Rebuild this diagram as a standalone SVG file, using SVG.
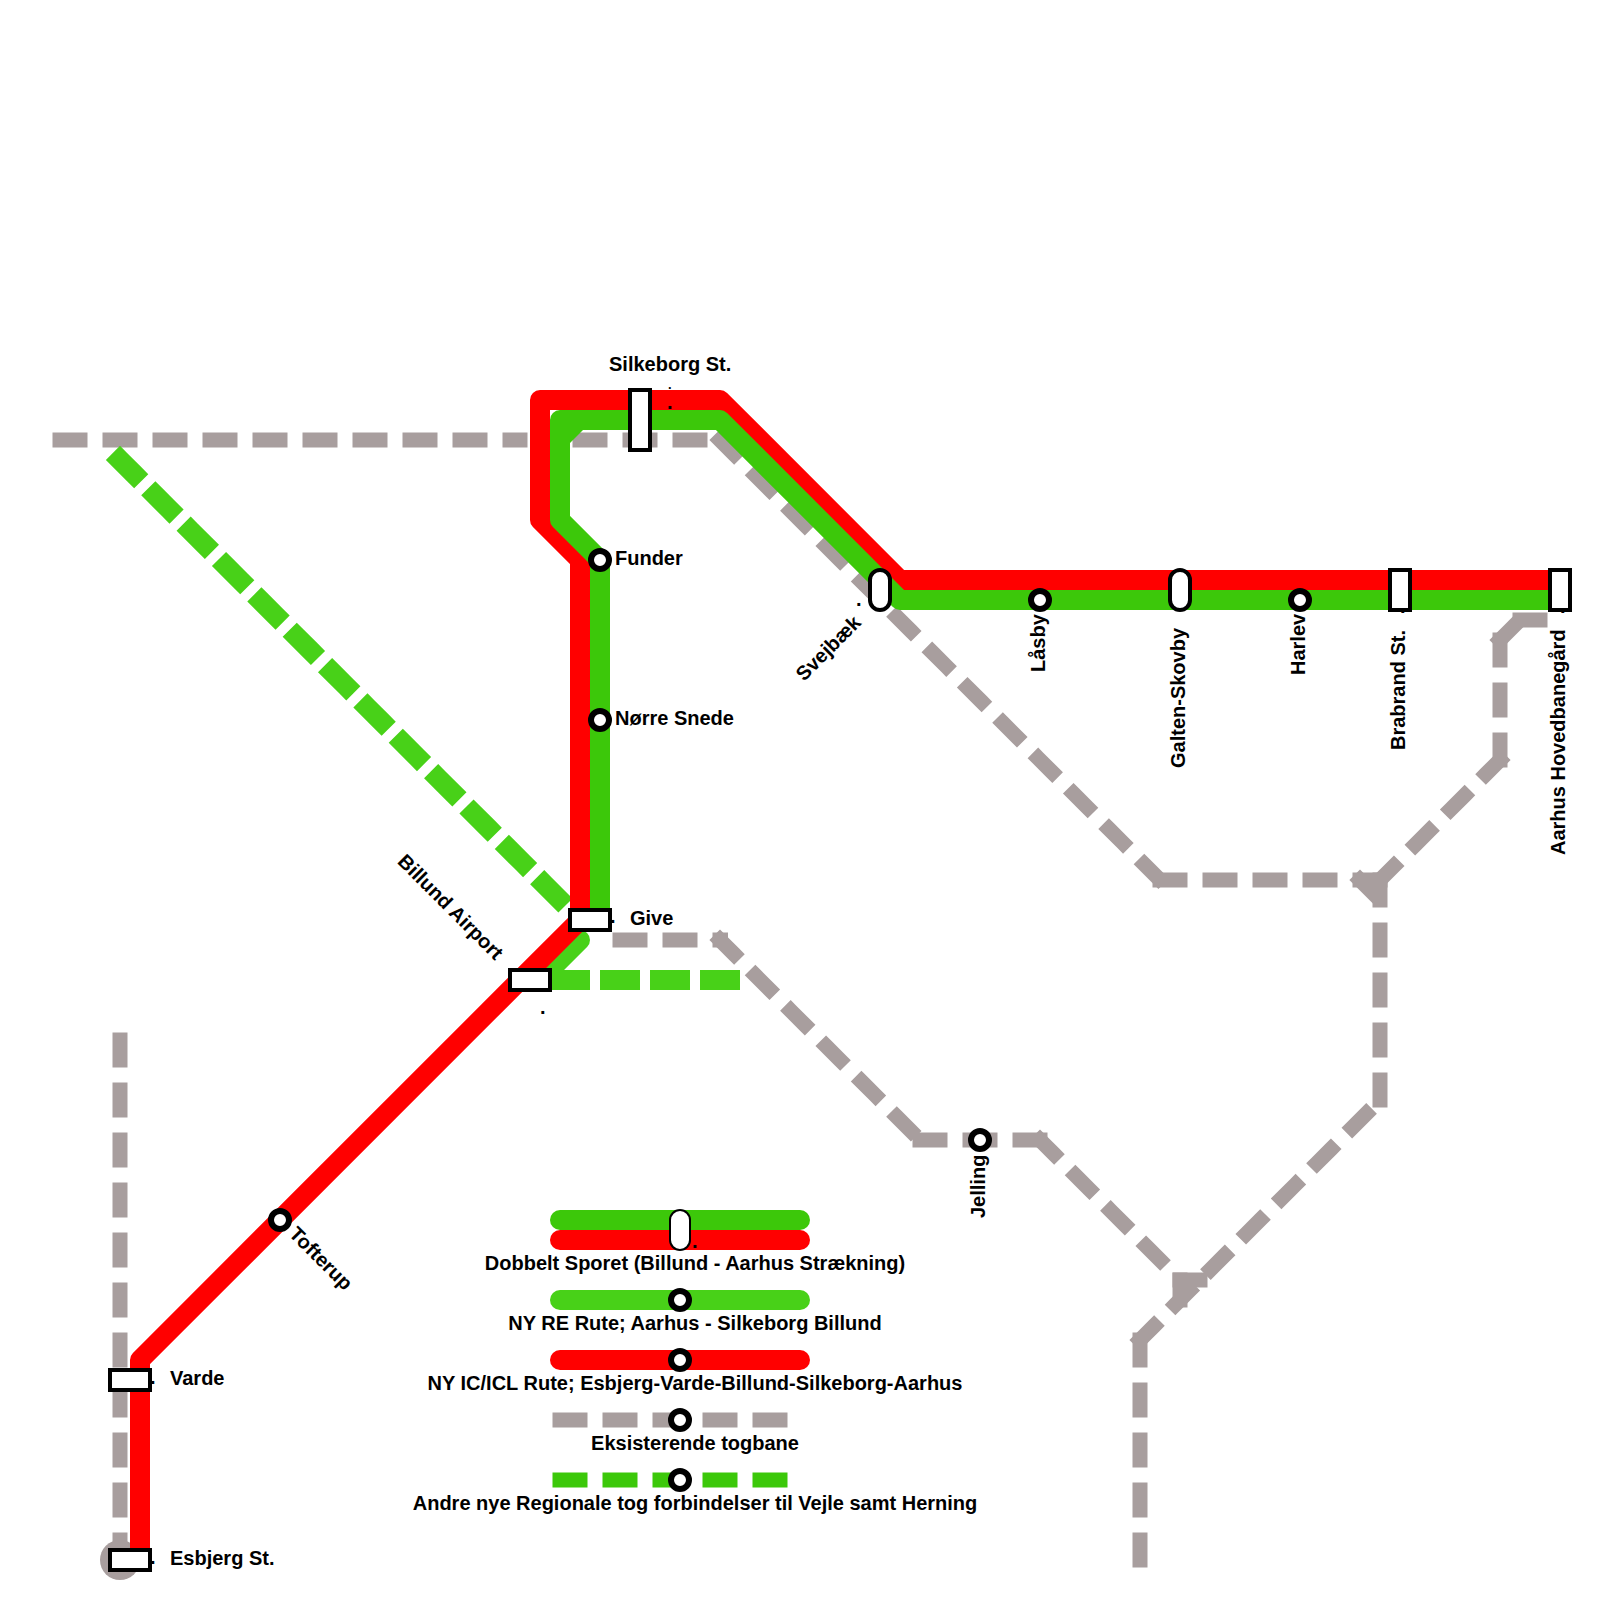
<svg xmlns="http://www.w3.org/2000/svg" width="1600" height="1600" viewBox="0 0 1600 1600">
<style>
text{font-family:"Liberation Sans",Arial,sans-serif;font-weight:bold;font-size:20px;fill:#000}
.m{text-anchor:middle}
.line{fill:none;stroke-linejoin:round}
.red{stroke:#ff0000;stroke-width:20}
.dg{stroke:#3cc80a;stroke-width:20}
.lg{stroke:#48d118;stroke-width:20}
.cap{stroke-linecap:round}
.gd{fill:none;stroke:#a89e9e;stroke-width:15;stroke-linecap:square;stroke-dasharray:20 30}
.ld{fill:none;stroke:#48d118;stroke-width:20;stroke-linecap:square;stroke-dasharray:20 30}
.st{fill:#fff;stroke:#000;stroke-width:4}
.ci{fill:#fff;stroke:#000;stroke-width:6}
</style>
<rect width="1600" height="1600" fill="#fff"/>
<g id="connectors">
<circle cx="120" cy="1560" r="20" fill="#a89e9e"/>
<path class="gd" d="M120 1040V1560"/>
<path class="gd" d="M60 440H520"/>
<path class="gd" d="M580 440H720"/>
<path class="gd" d="M720 440L1160 880"/>
<path class="gd" d="M1160 880H1380"/>
<path class="gd" d="M1360 880L1380 900"/>
<path class="gd" d="M1500 760L1380 880"/>
<path class="gd" d="M1500 760V640"/>
<path class="gd" d="M1500 640L1520 620"/>
<path class="gd" d="M1520 620H1540"/>
<path class="gd" d="M1380 880V1100"/>
<path class="gd" d="M1140 1340L1380 1100"/>
<path class="gd" d="M1140 1340V1570"/>
<path class="gd" d="M620 940H720.5"/>
<path class="gd" d="M720 940L920 1140"/>
<path class="gd" d="M920 1140H1040"/>
<path class="gd" d="M1040 1140L1180 1280"/>
<path class="gd" d="M1180 1280H1200"/>
<path class="gd" d="M1180 1280V1300"/>
<path class="ld" d="M120 460L570 910"/>
<path class="ld" d="M560 980H730"/>
<path class="line lg cap" d="M580 940L540 980"/>
<path class="line red" d="M140 1560V1360L580 920V560L540 520V400H720L900 580H1560"/>
<path class="line dg" d="M600 920V560L560 520V420H720L900 600H1560"/>
<path fill="#3cc80a" d="M569 429H584L569 444Z"/>
</g>
<g id="legend-lines">
<path class="line dg cap" d="M560 1220H800"/>
<path class="line red cap" d="M560 1240H800"/>
<path class="line lg cap" d="M560 1300H800"/>
<path class="line red cap" d="M560 1360H800"/>
<path class="gd" d="M560 1420H780"/>
<path style="fill:none;stroke:#3cc80a;stroke-width:15;stroke-linecap:square;stroke-dasharray:20 30" d="M560 1480H780"/>
</g>
<g id="esbjerg"><rect class="st" x="110" y="1550" width="40" height="20"/><text x="170" y="1565">Esbjerg St.</text><text x="150" y="1564">.</text></g>
<g id="varde"><rect class="st" x="110" y="1370" width="40" height="20"/><text x="170" y="1385">Varde</text><text x="150" y="1384">.</text></g>
<g id="tofterup"><circle class="ci" cx="280" cy="1220" r="9"/><text transform="translate(288 1235) rotate(45)">Tofterup</text></g>
<g id="billund"><rect class="st" x="510" y="970" width="40" height="20"/><text transform="translate(396.5 862.5) rotate(45)">Billund Airport</text><text x="540" y="1014">.</text></g>
<g id="give"><rect class="st" x="570" y="910" width="40" height="20"/><text x="630" y="925">Give</text><text x="610" y="923">.</text></g>
<g id="noerre-snede"><circle class="ci" cx="600" cy="720" r="9"/><text x="615" y="725">Nørre Snede</text></g>
<g id="funder"><circle class="ci" cx="600" cy="560" r="9"/><text x="615" y="565">Funder</text></g>
<g id="silkeborg"><rect class="st" x="630" y="390" width="20" height="60"/><text x="609" y="371">Silkeborg St.</text><text x="668" y="389" style="font-size:13px">.</text><text x="667" y="409">.</text></g>
<g id="svejbaek"><rect class="st" x="870" y="570" width="20" height="40" rx="10"/><text transform="translate(804 682) rotate(-45)">Svejbæk</text><text x="856" y="606">.</text></g>
<g id="laasby"><circle class="ci" cx="1040" cy="600" r="9"/><text transform="translate(1045 672) rotate(-90)">Låsby</text></g>
<g id="galten"><rect class="st" x="1170" y="570" width="20" height="40" rx="10"/><text transform="translate(1185 768) rotate(-90)">Galten-Skovby</text></g>
<g id="harlev"><circle class="ci" cx="1300" cy="600" r="9"/><text transform="translate(1305 675) rotate(-90)">Harlev</text></g>
<g id="brabrand"><rect class="st" x="1390" y="570" width="20" height="40"/><text transform="translate(1405 750) rotate(-90)">Brabrand St.</text><text x="1400" y="613">.</text></g>
<g id="aarhus"><rect class="st" x="1550" y="570" width="20" height="40"/><text transform="translate(1565 855) rotate(-90)">Aarhus Hovedbanegård</text><text x="1560" y="613">.</text></g>
<g id="jelling"><circle class="ci" cx="980" cy="1140" r="9"/><text transform="translate(985 1218) rotate(-90)">Jelling</text></g>
<g id="legend-double"><rect x="670" y="1210" width="20" height="40" rx="10" fill="#fff" stroke="#000" stroke-width="2"/><text x="692" y="1248">.</text><text class="m" x="695" y="1270">Dobbelt Sporet (Billund - Aarhus Strækning)</text></g>
<g id="legend-re"><circle class="ci" cx="680" cy="1300" r="9"/><text class="m" x="695" y="1330">NY RE Rute; Aarhus - Silkeborg Billund</text></g>
<g id="legend-ic"><circle class="ci" cx="680" cy="1360" r="9"/><text class="m" x="695" y="1390">NY IC/ICL Rute; Esbjerg-Varde-Billund-Silkeborg-Aarhus</text></g>
<g id="legend-existing"><circle class="ci" cx="680" cy="1420" r="9"/><text class="m" x="695" y="1450">Eksisterende togbane</text></g>
<g id="legend-other"><circle class="ci" cx="680" cy="1480" r="9"/><text class="m" x="695" y="1510">Andre nye Regionale tog forbindelser til Vejle samt Herning</text></g>
</svg>
